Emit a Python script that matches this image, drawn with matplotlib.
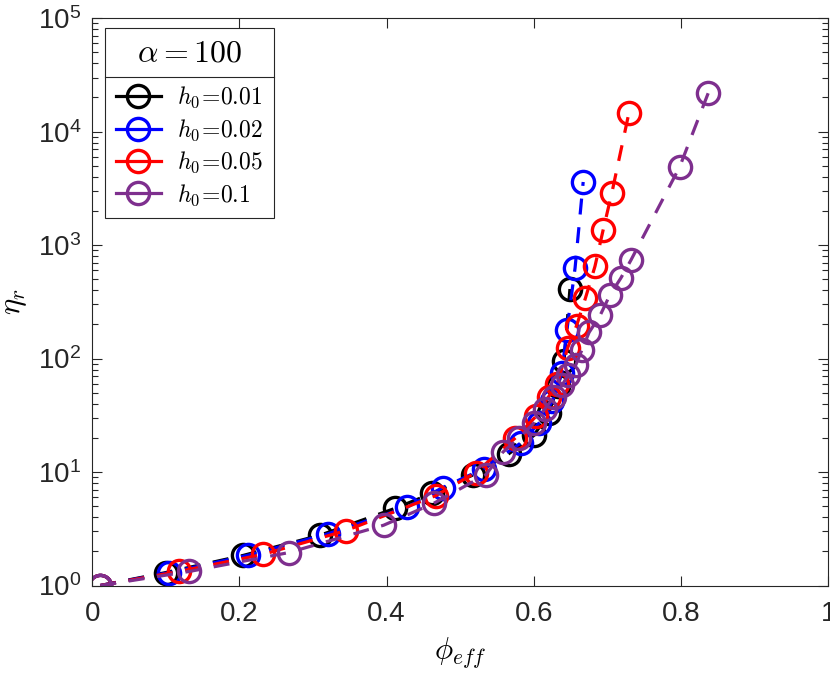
import numpy as np
import matplotlib
matplotlib.use("Agg")
import matplotlib.pyplot as plt
from matplotlib.lines import Line2D

# data (phi_eff, eta_r) for alpha = 100
phi_001 = [0.011, 0.100, 0.205, 0.310, 0.412, 0.462, 0.517, 0.566, 0.600, 0.620, 0.633, 0.641, 0.649]
eta_001 = [1.0, 1.30, 1.84, 2.78, 4.8, 6.5, 9.4, 14.5, 21, 33, 57, 95, 410]

phi_002 = [0.011, 0.105, 0.212, 0.320, 0.428, 0.476, 0.532, 0.582, 0.607, 0.625, 0.638, 0.645, 0.656, 0.667]
eta_002 = [1.0, 1.30, 1.85, 2.85, 4.9, 7.3, 10.7, 18, 27, 42, 75, 180, 630, 3600]

phi_005 = [0.011, 0.118, 0.232, 0.345, 0.467, 0.521, 0.575, 0.603, 0.620, 0.632, 0.646, 0.658, 0.670, 0.683, 0.694, 0.706, 0.729]
eta_005 = [1.0, 1.33, 1.88, 3.05, 6.2, 9.9, 20, 31, 46, 60, 125, 195, 340, 650, 1350, 2900, 14500]

phi_01 = [0.011, 0.132, 0.267, 0.396, 0.464, 0.535, 0.558, 0.580, 0.600, 0.615, 0.627, 0.638, 0.647,
          0.657, 0.665, 0.675, 0.690, 0.703, 0.718, 0.732, 0.798, 0.837]
eta_01 = [1.0, 1.33, 1.95, 3.4, 5.3, 9.5, 15, 20, 27, 36, 46, 58, 72,
          88, 118, 170, 240, 360, 510, 740, 4880, 22000]

labels = [r'$h_0\!=\!0.01$', r'$h_0\!=\!0.02$', r'$h_0\!=\!0.05$', r'$h_0\!=\!0.1$']
colors = ['black', '#0000ff', '#ff0000', '#7e2f8e']

plt.rcParams['font.family'] = ['Liberation Sans', 'DejaVu Sans']
plt.rcParams['mathtext.fontset'] = 'dejavusans'

fig = plt.figure(figsize=(8.3, 6.73), dpi=100)
ax = fig.add_axes([0.111, 0.130, 0.887, 0.843])

series = [(phi_001, eta_001), (phi_002, eta_002), (phi_005, eta_005), (phi_01, eta_01)]
for (x, y), c, lab in zip(series, colors, labels):
    ax.plot(x, y, '--', color=c, lw=2.3, dashes=(5, 4), marker='o', ms=16,
            mfc='none', mec=c, mew=2.4, label=lab)

ax.set_yscale('log')
ax.set_xlim(0, 1)
ax.set_ylim(1, 1e5)
ax.set_xticks([0, 0.2, 0.4, 0.6, 0.8, 1])
ax.set_xticklabels(['0', '0.2', '0.4', '0.6', '0.8', '1'])

ax.tick_params(which='both', direction='in', top=True, right=True,
               labelsize=20, colors='#262626', width=0.8)
ax.tick_params(which='major', length=7)
ax.tick_params(which='minor', length=4)
ax.tick_params(axis='x', pad=11)
ax.tick_params(axis='y', pad=8)
for s in ax.spines.values():
    s.set_color('#262626')
    s.set_linewidth(0.8)

xl = ax.set_xlabel(r'$\phi_{eff}$', fontsize=22, labelpad=6)
yl = ax.set_ylabel(r'$\eta_r$', fontsize=22, labelpad=6)
xl.set_math_fontfamily('cm')
yl.set_math_fontfamily('cm')

handles = [Line2D([], [], color=c, lw=2.3, marker='o', ms=16, mfc='none', mec=c, mew=2.4)
           for c in colors]
leg = ax.legend(handles, labels, loc='upper left', bbox_to_anchor=(0.018, 0.983),
                title=r'$\alpha = 100$', fontsize=17, title_fontsize=23,
                frameon=True, fancybox=False, edgecolor='#262626', framealpha=1,
                handlelength=1.9, handletextpad=0.7, labelspacing=0.3,
                borderpad=0.45, borderaxespad=0)
leg.get_frame().set_linewidth(0.8)
for t in leg.get_texts():
    t.set_math_fontfamily('cm')
leg.get_title().set_math_fontfamily('cm')
leg._legend_box.sep = 12

# separator line under the legend title
fig.canvas.draw()
inv = fig.transFigure.inverted()
fb = leg.get_frame().get_window_extent()
tb = leg.get_title().get_window_extent()
first = leg.get_texts()[0].get_window_extent()
ysep = (tb.y0 + first.y1) / 2
(x0, y0), (x1, _) = inv.transform([(fb.x0, ysep), (fb.x1, ysep)])
fig.add_artist(Line2D([x0, x1], [y0, y0], transform=fig.transFigure,
                      color='#262626', lw=0.8))

fig.savefig('out.png', dpi=100)
